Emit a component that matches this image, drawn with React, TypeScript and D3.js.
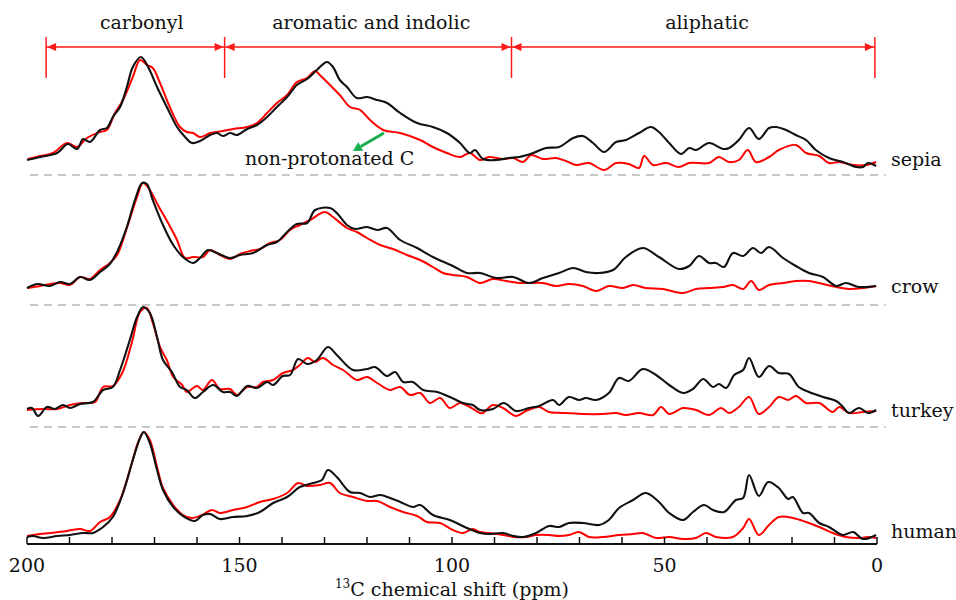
import React from "react";
import * as d3 from "d3";

type Pt = [number, number];

// [ppm, intensity] pairs
const sepiaBlack: Pt[] = [
  [200,10],[196.9,13],[192.9,17],[190.4,26],[188.2,21],[186.8,31],[185.2,28],[182.8,40],[181.2,42],[179.8,53],[178.1,63],[176.5,83],[175.1,103],[173.2,113],[171.5,103],[169.4,83],[167.1,63],[164.7,43],[162.8,33],[161.2,27],[159.3,29],[156.9,35],[155.3,37],[153.9,34],[152.2,37],[150.6,35],[148.2,41],[145.9,45],[143.5,53],[141.2,63],[138.8,73],[136.5,85],[134.1,91],[131.8,100],[129.4,108],[128.0,103],[126.4,90],[124.7,83],[122.4,72],[120.0,73],[117.6,70],[115.3,67],[112.2,57],[108.2,47],[104.5,43],[101.2,37],[98.1,27],[95.8,17],[94.6,20],[92.7,11],[89.6,10],[86.6,12],[84.2,13],[80.9,17],[77.9,22],[74.8,23],[71.5,32],[69.2,34],[66.8,27],[64.2,18],[61.4,28],[59.1,30],[56.0,37],[53.2,43],[51.3,38],[48.9,27],[46.1,16],[44.2,22],[42.6,20],[39.5,27],[36.2,21],[34.8,22],[32.5,30],[30.1,42],[27.8,31],[25.4,42],[23.8,43],[21.4,40],[19.1,35],[16.7,30],[14.4,20],[11.3,12],[8.0,8],[4.9,3],[3.3,3],[2.1,7],[0.2,4]
];
const sepiaRed: Pt[] = [
  [199.8,11],[196.9,14],[193.9,17],[190.6,27],[188.2,23],[185.9,32],[182.8,38],[181.2,40],[179.3,57],[177.4,70],[175.1,93],[173.4,110],[171.8,105],[170.4,102],[168.7,87],[166.4,63],[164.0,43],[162.4,38],[160.9,37],[159.3,33],[156.9,37],[153.9,39],[151.5,41],[148.2,43],[145.9,47],[143.5,57],[141.2,67],[138.8,75],[136.5,88],[134.1,92],[132.2,99],[131.1,95],[128.7,85],[126.4,75],[124.0,63],[121.6,60],[119.3,50],[116.2,40],[112.2,37],[107.5,30],[104.5,23],[101.2,17],[98.1,13],[95.8,17],[93.4,10],[91.3,13],[88.0,11],[85.6,12],[83.3,8],[81.4,15],[78.6,11],[75.5,12],[73.2,9],[70.8,5],[67.8,7],[64.2,0],[61.4,7],[58.4,6],[56.0,2],[54.8,14],[52.7,5],[49.6,7],[46.6,3],[44.2,7],[39.5,7],[37.2,13],[34.8,8],[32.5,10],[30.4,20],[28.5,8],[25.4,13],[23.1,20],[19.1,25],[16.7,17],[13.6,14],[11.3,7],[8.9,8],[5.6,5],[2.6,5],[0.2,8]
];
const crowBlack: Pt[] = [
  [200,10],[197.6,14],[194.6,12],[192.2,16],[189.9,14],[187.5,21],[185.2,18],[182.8,26],[180.5,34],[178.6,48],[176.5,71],[174.6,98],[172.9,115],[171.8,114],[170.4,98],[168.0,73],[165.6,53],[163.3,41],[160.9,35],[159.3,40],[157.4,48],[155.3,45],[152.2,40],[149.9,43],[146.8,45],[143.5,53],[141.2,56],[138.8,66],[136.5,74],[134.1,75],[132.2,88],[128.7,90],[127.1,85],[124.7,73],[122.8,69],[120.0,71],[117.6,68],[115.3,70],[112.2,58],[108.2,50],[104.5,41],[99.8,32],[96.5,25],[93.4,25],[89.6,20],[85.6,21],[81.9,15],[78.6,20],[74.8,25],[71.5,30],[68.5,26],[65.4,25],[62.1,28],[59.1,41],[55.1,50],[51.3,41],[46.6,29],[44.2,32],[41.9,42],[39.5,35],[37.9,35],[36.0,31],[33.9,45],[31.5,42],[29.2,50],[27.3,45],[25.4,51],[22.1,40],[19.1,32],[16.0,25],[12.7,21],[9.6,12],[7.3,15],[4.2,11],[0.2,12]
];
const crowRed: Pt[] = [
  [200,10],[196.9,12],[194.6,14],[192.2,15],[189.9,13],[187.5,21],[185.2,19],[182.8,28],[180.5,35],[178.8,43],[176.5,70],[174.1,101],[172.7,115],[171.1,108],[169.2,93],[166.8,75],[164.7,58],[162.8,40],[160.9,41],[158.6,41],[156.9,48],[154.6,43],[152.2,39],[149.9,44],[147.5,47],[145.2,49],[142.8,55],[140.5,58],[138.1,68],[135.8,73],[133.4,78],[129.9,86],[128.0,81],[124.7,70],[122.4,66],[120.0,60],[116.9,53],[113.9,49],[110.6,43],[107.5,38],[104.5,31],[102.1,25],[99.8,23],[96.5,21],[93.4,15],[90.4,19],[87.3,17],[84.2,15],[81.9,15],[78.6,15],[75.5,12],[72.5,14],[69.2,12],[66.1,7],[63.1,12],[59.8,10],[57.4,13],[54.4,10],[50.4,9],[45.6,5],[42.6,9],[39.5,10],[36.2,11],[33.9,13],[31.5,9],[29.6,17],[27.8,8],[25.4,13],[22.1,15],[19.1,17],[16.0,17],[12.7,14],[9.6,11],[6.6,9],[3.3,10],[0.2,12]
];
const turkeyBlack: Pt[] = [
  [200,10],[198.8,11],[197.4,3],[195.3,12],[193.4,10],[191.5,14],[189.9,11],[187.5,15],[184.5,17],[182.1,29],[179.8,32],[178.1,49],[175.8,79],[174.1,102],[172.7,112],[171.1,106],[169.4,82],[168.0,59],[165.9,47],[164.0,32],[162.4,29],[160.5,21],[158.6,27],[156.2,34],[153.9,27],[152.2,27],[150.6,23],[148.2,33],[145.9,31],[143.5,37],[142.1,34],[139.8,43],[138.1,44],[136.2,60],[134.1,55],[131.8,59],[129.2,72],[127.1,64],[123.3,49],[120.0,50],[118.1,52],[115.3,43],[113.4,47],[111.5,37],[109.2,37],[106.8,29],[103.5,27],[100.5,22],[97.4,16],[95.1,14],[93.4,9],[90.4,10],[87.8,16],[84.9,8],[81.9,11],[79.5,13],[76.2,19],[74.8,14],[72.5,22],[70.1,19],[68.5,21],[66.1,19],[63.1,26],[60.7,41],[58.4,38],[55.1,50],[52.0,44],[48.9,34],[45.6,26],[43.3,30],[40.9,40],[38.6,32],[37.2,35],[35.5,31],[33.6,44],[31.5,49],[30.1,61],[27.8,42],[25.4,53],[23.1,46],[20.7,45],[18.4,32],[16.0,27],[12.7,22],[9.6,18],[8.0,12],[6.6,6],[4.2,11],[2.1,6],[0.2,9]
];
const turkeyRed: Pt[] = [
  [200,9],[196.2,10],[192.9,10],[189.9,14],[186.8,16],[184.0,17],[182.1,32],[179.8,33],[177.6,46],[175.3,77],[173.4,107],[171.8,111],[170.4,96],[168.7,72],[167.1,59],[165.6,42],[163.5,34],[162.4,27],[160.0,33],[158.6,29],[156.5,39],[154.6,30],[152.2,30],[150.6,24],[148.2,32],[145.9,32],[144.5,37],[142.1,39],[139.8,46],[137.4,49],[135.8,54],[133.9,61],[132.2,57],[130.4,61],[128.0,54],[125.6,49],[122.4,39],[120.0,42],[117.6,36],[114.6,29],[112.2,32],[109.9,24],[107.5,26],[105.2,16],[102.8,21],[100.5,11],[98.1,16],[95.8,12],[93.4,6],[92.7,6],[90.4,14],[88.0,11],[84.9,3],[82.6,8],[79.5,12],[77.2,7],[73.9,6],[69.2,5],[64.5,5],[61.4,6],[59.1,4],[56.0,6],[52.7,4],[50.8,12],[48.9,5],[45.6,11],[42.6,9],[39.5,4],[36.7,11],[34.8,6],[32.5,12],[30.1,22],[27.8,5],[25.4,12],[23.1,22],[20.9,19],[19.1,23],[16.7,16],[13.6,16],[10.4,7],[8.9,12],[6.6,6],[3.3,7],[0.2,8]
];
const humanBlack: Pt[] = [
  [200,10],[198.6,11],[196.2,9],[192.9,11],[189.9,12],[186.8,14],[184.5,14],[182.1,20],[179.8,30],[177.4,54],[175.1,87],[173.4,109],[172.5,115],[171.1,104],[169.4,77],[168.0,57],[165.6,40],[163.3,31],[160.5,26],[158.6,32],[156.9,33],[154.6,28],[151.5,30],[148.2,31],[145.2,35],[142.1,44],[138.8,50],[135.8,60],[132.7,64],[130.6,67],[129.2,77],[127.1,70],[124.0,55],[121.6,54],[119.3,50],[116.9,52],[114.6,49],[112.2,45],[109.2,40],[107.5,42],[104.5,32],[100.5,27],[96.5,19],[93.4,14],[91.3,13],[88.0,14],[85.6,11],[83.3,10],[80.2,14],[77.2,21],[74.8,20],[72.5,24],[69.2,24],[65.4,22],[63.1,27],[60.7,39],[57.4,47],[54.4,54],[51.3,45],[48.9,34],[45.6,27],[43.3,35],[40.7,42],[38.6,37],[36.0,35],[33.2,47],[31.5,49],[30.1,72],[27.8,51],[25.6,65],[23.1,59],[20.9,48],[19.8,50],[17.4,34],[16.0,34],[13.6,24],[11.3,20],[8.0,12],[5.6,15],[3.3,8],[0.2,12]
];
const humanRed: Pt[] = [
  [200,11],[196.9,13],[194.6,14],[190.6,16],[187.5,18],[185.2,16],[182.8,25],[180.5,30],[178.1,47],[175.8,77],[173.9,104],[172.5,115],[171.1,107],[169.4,80],[168.0,59],[165.6,42],[163.3,32],[161.2,29],[158.8,32],[156.5,37],[154.6,34],[151.5,37],[148.2,40],[145.2,45],[142.1,48],[138.8,54],[136.2,64],[134.1,61],[131.1,62],[128.7,64],[126.4,54],[123.3,50],[120.0,46],[117.6,46],[114.6,40],[111.5,35],[108.2,31],[105.9,25],[102.8,24],[99.8,17],[97.4,14],[95.1,18],[93.4,15],[91.3,14],[88.0,12],[85.6,10],[82.6,10],[80.2,12],[77.2,12],[74.8,11],[72.5,12],[70.1,15],[67.8,10],[64.5,10],[60.7,12],[57.4,13],[55.1,14],[52.0,9],[48.9,10],[45.6,8],[42.6,9],[40.2,14],[37.9,10],[33.9,10],[31.5,19],[30.1,28],[27.8,12],[25.4,22],[23.1,30],[19.8,29],[16.7,25],[13.6,20],[10.4,14],[7.3,10],[4.2,9],[1.9,10],[0.2,9]
];

const sampleNames = ["sepia", "crow", "turkey", "human"];
const blackSeries = [sepiaBlack, crowBlack, turkeyBlack, humanBlack];
const redSeries = [sepiaRed, crowRed, turkeyRed, humanRed];

const regionNames = ["carbonyl", "aromatic and indolic", "aliphatic"];
const regionBounds = [195.5, 153.5, 86, 0.5];
const regionLabelPpm = [173, 119, 40];

const minorTicks = d3.range(0, 201, 10);
const majorTicks = [200, 150, 100, 50, 0];

// layout
const W = 956, H = 600;
const panelBase = [170, 298, 419, 547];
const separatorOffset = [-5, -7, -8];
const labelOffset = [4, 5, 2, 9];
const axisY = 544;
const bracketY = 47;
const FONT = "DejaVu Serif";
const FS = 19;

export default function App() {
  const x = d3.scaleLinear().domain([200, 0]).range([27, 877]);
  const yFor = (i: number) => d3.scaleLinear().domain([0, 100]).range([panelBase[i], panelBase[i] - 100]);

  const lineFor = (i: number) =>
    d3.line<Pt>().x(d => x(d[0])).y(d => yFor(i)(d[1])).curve(d3.curveCatmullRom.alpha(0.5));

  const arrowL = (px: number) => `M${px},${bracketY} L${px + 9},${bracketY - 4} L${px + 9},${bracketY + 4} Z`;
  const arrowR = (px: number) => `M${px},${bracketY} L${px - 9},${bracketY - 4} L${px - 9},${bracketY + 4} Z`;

  const ys = yFor(0);
  const annX1 = x(116), annY1 = ys(37), annX2 = x(123.3), annY2 = ys(19);
  const ang = Math.atan2(annY2 - annY1, annX2 - annX1);
  const ah = 9, aw = 5;
  const tipX = annX2, tipY = annY2;
  const baseX = tipX - ah * Math.cos(ang), baseY = tipY - ah * Math.sin(ang);
  const headPath = `M${tipX},${tipY} L${baseX + aw * Math.sin(ang)},${baseY - aw * Math.cos(ang)} L${baseX - aw * Math.sin(ang)},${baseY + aw * Math.cos(ang)} Z`;

  const ts = { fontFamily: FONT };

  return (
    <svg width={W} height={H} style={{ position: "absolute", left: 0, top: 0, background: "#fff" }}>
      {/* region brackets */}
      <line x1={x(regionBounds[0])} x2={x(regionBounds[3])} y1={bracketY} y2={bracketY} stroke="#ff1a1a" strokeWidth={1.5} />
      {regionBounds.map((b, i) => (
        <line key={"rb" + i} x1={x(b)} x2={x(b)} y1={37} y2={78} stroke="#ff1a1a" strokeWidth={1.5} />
      ))}
      {regionNames.map((n, i) => (
        <g key={"rg" + i}>
          <path d={arrowL(x(regionBounds[i]) + 1)} fill="#ff1a1a" />
          <path d={arrowR(x(regionBounds[i + 1]) - 1)} fill="#ff1a1a" />
          <text x={x(regionLabelPpm[i])} y={29} textAnchor="middle" fontSize={FS} fill="#111" style={ts}>{n}</text>
        </g>
      ))}

      {/* separators */}
      {separatorOffset.map((o, i) => (
        <line key={"sep" + i} x1={x(199.3)} x2={x(-2)} y1={yFor(i)(o)} y2={yFor(i)(o)}
          stroke="#c8c8c8" strokeWidth={1.8} strokeDasharray="8,6" />
      ))}

      {/* spectra */}
      {sampleNames.map((n, i) => (
        <g key={n}>
          <path d={lineFor(i)(redSeries[i]) || ""} fill="none" stroke="#ff0000" strokeWidth={2} strokeLinejoin="round" />
          <path d={lineFor(i)(blackSeries[i]) || ""} fill="none" stroke="#111" strokeWidth={2.1} strokeLinejoin="round" />
          <text x={891} y={panelBase[i] - labelOffset[i]} fontSize={FS} fill="#111" style={ts}>{n}</text>
        </g>
      ))}

      {/* annotation */}
      <line x1={annX1} y1={annY1} x2={baseX} y2={baseY} stroke="#1aad4e" strokeWidth={3} />
      <path d={headPath} fill="#1aad4e" />
      <text x={x(148.7)} y={ys(5)} fontSize={FS} fill="#111" style={ts}>non-protonated C</text>

      {/* x axis */}
      <line x1={x(200)} x2={x(0)} y1={axisY} y2={axisY} stroke="#111" strokeWidth={2} />
      {minorTicks.map(t => (
        <line key={"t" + t} x1={x(t)} x2={x(t)} y1={axisY} y2={axisY - 7} stroke="#111" strokeWidth={1.5} />
      ))}
      {majorTicks.map(t => (
        <text key={"l" + t} x={x(t)} y={572} textAnchor="middle" fontSize={FS} fill="#111" style={ts}>{t}</text>
      ))}
      <text x={x(100)} y={596} textAnchor="middle" fontSize={FS} fill="#111" style={ts}>
        <tspan fontSize={12} dy={-8}>13</tspan>
        <tspan dy={8}>C chemical shift (ppm)</tspan>
      </text>
    </svg>
  );
}
